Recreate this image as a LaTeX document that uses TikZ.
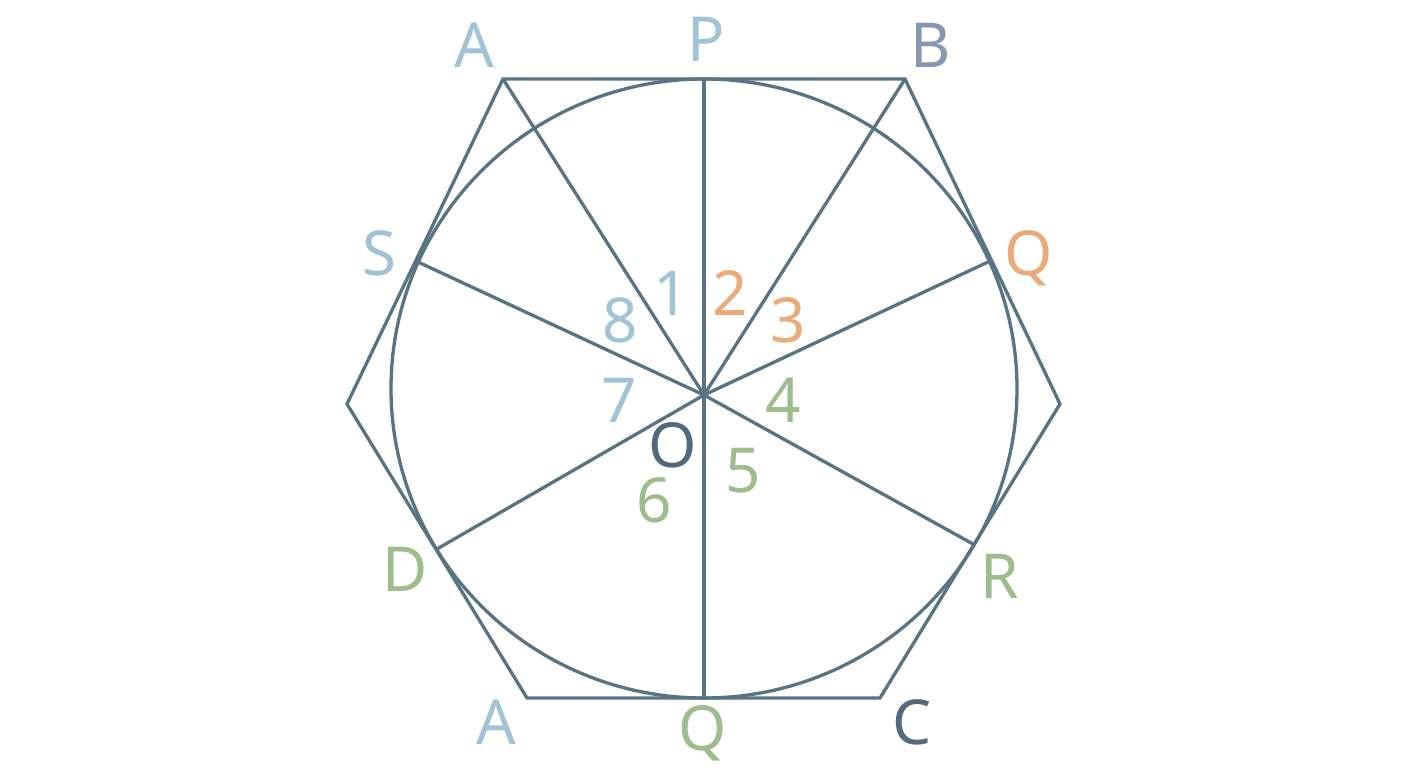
\documentclass[tikz,border=0pt]{standalone}
\usepackage{fontspec}
\setmainfont{Noto Sans}
\definecolor{linec}{HTML}{587384}
\definecolor{lblue}{HTML}{A0C4D6}
\definecolor{lorange}{HTML}{EBAA78}
\definecolor{lgreen}{HTML}{9DBE8C}
\definecolor{lslate}{HTML}{8797B3}
\definecolor{ldark}{HTML}{526A7D}
\begin{document}
\begin{tikzpicture}[x=1pt,y=-1pt,
  geo/.style={draw=linec,line width=3.3pt,line join=miter},
  lbl/.style={inner sep=0pt,anchor=base,font=\fontsize{62}{62}\selectfont}]
\useasboundingbox (0,0) rectangle (1408,768);
\fill[white] (0,0) rectangle (1408,768);
% points
\coordinate (O) at (704,395);
\coordinate (A1) at (503,79);
\coordinate (P) at (704,79);
\coordinate (B) at (905,79);
\coordinate (H1) at (1060,404);
\coordinate (C) at (880,698);
\coordinate (Q2) at (704,698);
\coordinate (A2) at (527,698);
\coordinate (H2) at (347,404);
\coordinate (Q1) at (988,262);
\coordinate (R) at (973,544);
\coordinate (D) at (437,549);
\coordinate (S) at (418,262);
% hexagon
\draw[geo] (A1) -- (B) -- (H1) -- (C) -- (A2) -- (H2) -- cycle;
% circle
\draw[geo] (704,388.5) ellipse [x radius=313, y radius=309.5];
% spokes
\foreach \p in {A1,P,B,Q1,R,Q2,D,S}
  \draw[geo] (O) -- (\p);
% vertex labels
\node[lbl,text=lblue]   (tA1) at (474,67)  {A};
\node[lbl,text=lblue]   (tP)  at (706,62)  {P};
\node[lbl,text=lslate]  (tB)  at (931,67)  {B};
\node[lbl,text=lorange] (tQ1) at (1029,275) {Q};
\node[lbl,text=lblue]   (tS)  at (380,275) {S};
\node[lbl,text=lgreen]  (tD)  at (405,591) {D};
\node[lbl,text=lgreen]  (tR)  at (1000,598) {R};
\node[lbl,text=lblue]   (tA2) at (496,744) {A};
\node[lbl,text=lgreen]  (tQ2) at (703,750) {Q};
\node[lbl,text=ldark]   (tC)  at (912,744) {C};
\node[lbl,text=ldark]   (tO)  at (673,467) {O};
% angle numbers
\node[lbl,text=lblue]   (n1) at (671,315) {1};
\node[lbl,text=lorange] (n2) at (730,315) {2};
\node[lbl,text=lorange] (n3) at (788,342) {3};
\node[lbl,text=lgreen]  (n4) at (783,422) {4};
\node[lbl,text=lgreen]  (n5) at (743,492) {5};
\node[lbl,text=lgreen]  (n6) at (654,522) {6};
\node[lbl,text=lblue]   (n7) at (619,422) {7};
\node[lbl,text=lblue]   (n8) at (620,342) {8};
\end{tikzpicture}
\end{document}
